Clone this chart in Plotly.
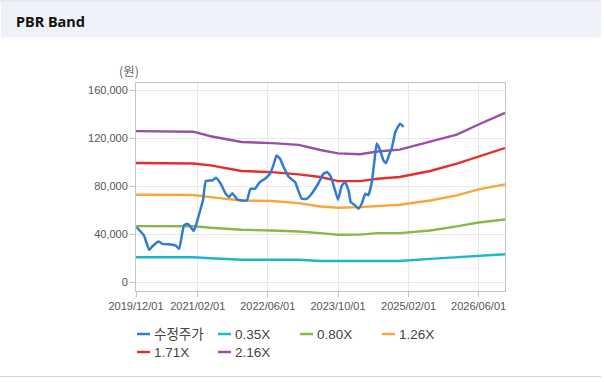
import plotly.graph_objects as go

# ---------------- data ----------------
price_dates = [
    "2019-12-06", "2020-01-25", "2020-03-01", "2020-03-22", "2020-05-07", "2020-06-01",
    "2020-07-28", "2020-09-01", "2020-09-25", "2020-10-28", "2020-11-21", "2020-12-10",
    "2021-01-04", "2021-01-19", "2021-02-21", "2021-03-10", "2021-03-28", "2021-05-13",
    "2021-06-07", "2021-07-10", "2021-08-13", "2021-09-07", "2021-09-28", "2021-11-04",
    "2022-01-07", "2022-02-01", "2022-03-04", "2022-04-07", "2022-05-13", "2022-06-16",
    "2022-07-10", "2022-08-01", "2022-08-25", "2022-09-19", "2022-10-22", "2022-12-07",
    "2023-01-22", "2023-02-26", "2023-04-01", "2023-05-16", "2023-06-22", "2023-07-19",
    "2023-08-13", "2023-09-10", "2023-10-01", "2023-10-28", "2023-11-19", "2023-12-13",
    "2023-12-28", "2024-01-28", "2024-02-19", "2024-03-13", "2024-04-07", "2024-04-28",
    "2024-05-22", "2024-06-07", "2024-06-25", "2024-07-19", "2024-08-10", "2024-08-28",
    "2024-09-22", "2024-10-07", "2024-11-01", "2024-12-04", "2024-12-28",
]
price_values = [
    46000, 39200, 27200, 30000, 34200, 32200,
    31700, 30800, 28000, 47500, 48900, 46900,
    42800, 47500, 61400, 68900, 84400, 85000,
    87200, 82200, 73900, 71100, 74400, 68900,
    68300, 78000, 78000, 83600, 86400, 90500,
    97500, 105800, 103000, 96100, 88300, 83600,
    69700, 69700, 73900, 82200, 90500, 91900,
    87800, 77000, 68900, 80800, 83600, 76700,
    66900, 64200, 61400, 65600, 73900, 72500,
    83600, 98900, 115600, 110000, 101700, 99400,
    107200, 111400, 125300, 132200, 129400,
]

band_dates = [
    "2019-12-01", "2021-01-01", "2021-05-01", "2021-12-01", "2022-07-01", "2023-01-01",
    "2023-06-01", "2023-10-01", "2024-03-01", "2024-07-01", "2024-12-01", "2025-07-01",
    "2026-01-01", "2026-06-01", "2026-12-01",
]
band_035 = [21100, 21100, 20300, 19000, 19000, 19000, 18000, 17900, 17900, 18000, 18000, 19700, 21100, 22400, 23600]
band_080 = [47000, 46800, 45600, 43900, 43300, 42500, 41100, 39800, 39900, 41100, 41100, 43300, 46700, 50000, 52500]
band_126 = [73000, 72800, 71100, 68300, 67800, 66100, 63300, 62300, 62800, 63800, 64700, 68300, 72500, 77500, 81700]
band_171 = [99400, 99000, 97500, 92800, 91900, 90000, 87800, 84400, 84400, 86400, 87800, 92800, 98900, 105000, 111900]
band_216 = [126000, 125500, 121700, 116900, 116000, 114500, 110300, 107500, 106700, 109000, 110600, 116900, 123000, 131500, 141100]

series_names = ["수정주가", "0.35X", "0.80X", "1.26X", "1.71X", "2.16X"]
series_colors = ["#2f7bd6", "#1cb6d0", "#88b946", "#f8a63c", "#e52f2c", "#9a4ea6"]

x_tickvals = ["2019-12-01", "2021-02-01", "2022-06-01", "2023-10-01", "2025-02-01", "2026-06-01"]
y_tickvals = [0, 40000, 80000, 120000, 160000]

# ---------------- figure ----------------
W, H = 604, 382
L, R, T, B = 136, 505, 83, 291
pw, ph = R - L, B - T


def px(x):
    return (x - L) / pw


def py(y):
    return (B - y) / ph


fig = go.Figure()

band_values = [band_035, band_080, band_126, band_171, band_216]
for name, color, vals in zip(series_names[1:], series_colors[1:], band_values):
    fig.add_trace(go.Scatter(
        x=band_dates, y=vals, name=name, mode="lines",
        line=dict(color=color, width=2.4), showlegend=False,
        hovertemplate="%{x|%Y/%m/%d}<br>" + name + ": %{y:,}<extra></extra>",
    ))

fig.add_trace(go.Scatter(
    x=price_dates, y=price_values, name=series_names[0], mode="lines",
    line=dict(color=series_colors[0], width=2.5, shape="spline", smoothing=0.35),
    showlegend=False,
    hovertemplate="%{x|%Y/%m/%d}<br>수정주가: %{y:,}<extra></extra>",
))

shapes = []
annotations = []

# header bar
shapes.append(dict(type="rect", xref="paper", yref="paper",
                   x0=px(1), x1=px(601), y0=py(37.5), y1=py(2),
                   fillcolor="#eef2f8", line=dict(width=0), layer="below"))
shapes.append(dict(type="line", xref="paper", yref="paper",
                   x0=px(0), x1=px(601), y0=py(1), y1=py(1),
                   line=dict(color="#d3d3d3", width=1)))
shapes.append(dict(type="line", xref="paper", yref="paper",
                   x0=px(0), x1=px(601), y0=py(376.5), y1=py(376.5),
                   line=dict(color="#d3d3d3", width=1)))
annotations.append(dict(text="<b>PBR Band</b>", xref="paper", yref="paper",
                        x=px(14), y=py(21), xanchor="left", yanchor="middle",
                        showarrow=False, font=dict(size=14.5, color="#111111",
                                                   family="Noto Sans, Liberation Sans, sans-serif")))
annotations.append(dict(text="(원)", xref="paper", yref="paper",
                        x=px(129), y=py(70), xanchor="center", yanchor="middle",
                        showarrow=False, font=dict(size=12.5, color="#666666",
                                                   family="Noto Sans CJK KR, sans-serif")))

# legend (manual, two rows)
legend_pos = [(137, 334), (218, 334), (300, 334), (382, 334), (137, 352), (218, 352)]
for name, color, (lx, ly) in zip(series_names, series_colors, legend_pos):
    shapes.append(dict(type="line", xref="paper", yref="paper",
                       x0=px(lx), x1=px(lx + 13), y0=py(ly), y1=py(ly),
                       line=dict(color=color, width=2.5)))
    annotations.append(dict(text=name, xref="paper", yref="paper",
                            x=px(lx + 15), y=py(ly), xanchor="left", yanchor="middle",
                            showarrow=False,
                            font=dict(size=13.5, color="#444444",
                                      family="Liberation Sans, Noto Sans CJK KR, sans-serif")))

fig.update_layout(
    width=W, height=H,
    margin=dict(l=L, r=W - R, t=T, b=H - B, pad=0),
    paper_bgcolor="white", plot_bgcolor="white",
    showlegend=False,
    shapes=shapes, annotations=annotations,
    font=dict(family="Liberation Sans, Arial, sans-serif", size=11, color="#555555"),
    xaxis=dict(
        type="date", range=["2019-12-01", "2026-12-01"],
        tickvals=x_tickvals, tickformat="%Y/%m/%d",
        showgrid=True, gridcolor="#e8e8e8", gridwidth=1,
        showline=True, linecolor="#c4c4c4", linewidth=1, mirror=True,
        ticks="outside", ticklen=5, tickcolor="#c4c4c4",
        tickfont=dict(size=11, color="#555555"), zeroline=False,
    ),
    yaxis=dict(
        range=[-7000, 166000], tickvals=y_tickvals, tickformat=",",
        showgrid=True, gridcolor="#e8e8e8", gridwidth=1,
        showline=True, linecolor="#c4c4c4", linewidth=1, mirror=True,
        ticks="outside", ticklen=5, tickcolor="#c4c4c4",
        tickfont=dict(size=11, color="#555555"), zeroline=False,
    ),
)

fig.write_html("out.html", config={"displayModeBar": False},
               post_script="document.body.style.margin='0';")
